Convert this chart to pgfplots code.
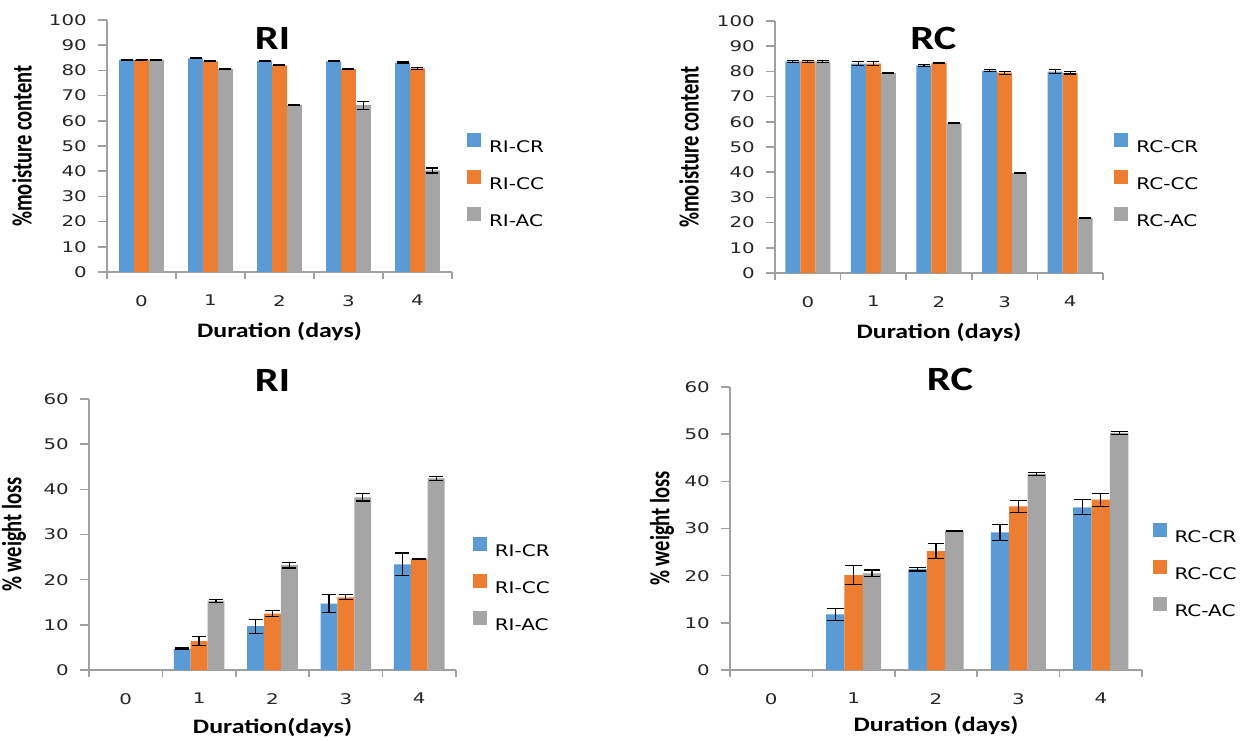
\documentclass[border=0pt]{standalone}
\usepackage{pgfplots}
\pgfplotsset{compat=1.18}
\usepackage{pgfplotstable}
\usepackage{fontspec}
\setmainfont{DejaVu Sans}
\newfontfamily\tickf{DejaVu Sans}[FakeStretch=1.35]
\newfontfamily\legf{DejaVu Sans}[FakeStretch=1.25]
\newfontfamily\labf{Carlito}[FakeStretch=1.26]
\newfontfamily\ylabf{Carlito}[FakeStretch=0.74]
\newfontfamily\titf{Carlito}[FakeStretch=1.25]

\definecolor{cblue}{HTML}{5B9BD5}
\definecolor{corange}{HTML}{ED7D31}
\definecolor{cgray}{HTML}{A5A5A5}
\definecolor{axgray}{HTML}{A0A0A0}

% moisture content, RI
\pgfplotstableread{
x cr cre cc cce ac ace
0 84.2 0.2 84.2 0.2 84.2 0.2
1 84.8 0.2 83.6 0.2 80.5 0.2
2 83.7 0.2 82.0 0.2 66.3 0.2
3 83.6 0.2 80.5 0.2 66.2 1.6
4 83.1 0.2 80.8 0.4 40.3 1.0
}\tRImc

% moisture content, RC
\pgfplotstableread{
x cr cre cc cce ac ace
0 84.0 0.4 84.0 0.4 84.0 0.4
1 83.1 0.7 83.1 0.7 79.4 0.3
2 82.4 0.4 83.3 0.2 59.4 0.2
3 80.3 0.3 79.5 0.6 39.7 0.2
4 79.9 0.7 79.4 0.4 21.8 0.2
}\tRCmc

% weight loss, RI
\pgfplotstableread{
x cr cre cc cce ac ace
1 4.7 0.15 6.4 1.0 15.3 0.3
2 9.7 1.55 12.5 0.6 23.2 0.6
3 14.7 2.0 16.1 0.55 38.2 0.8
4 23.4 2.5 24.6 0.05 42.4 0.4
}\tRIwl

% weight loss, RC
\pgfplotstableread{
x cr cre cc cce ac ace
1 11.8 1.3 20.1 2.0 20.5 0.7
2 21.4 0.4 25.2 1.55 29.5 0.15
3 29.2 1.7 34.7 1.3 41.6 0.3
4 34.5 1.6 36.1 1.4 50.3 0.3
}\tRCwl

\pgfplotsset{
  panel/.style={
    scale only axis,
    axis lines*=left,
    axis line style={draw=axgray, line width=1.1pt},
    xmin=-0.5, xmax=4.5,
    xtick={0,...,4},
    minor xtick={-0.5,0.5,...,4.5},
    tick align=outside,
    major tick length=6.75pt,
    minor tick length=5.25pt,
    tick style={draw=axgray, line width=1.1pt},
    major x tick style={draw=none},
    /pgf/number format/assume math mode=true,
    tick label style={font=\tickf\fontsize{11}{13}\selectfont, text=black!85},
    yticklabel style={inner sep=0pt, anchor=east, xshift=-8.25pt},
    xticklabel style={inner sep=0pt, anchor=north, yshift=-10.5pt},
    xlabel style={anchor=base, font=\labf\bfseries\fontsize{15.4}{18}\selectfont},
    ylabel style={anchor=center, font=\ylabf\bfseries\fontsize{20.8}{24}\selectfont},
    ybar=0pt,
    error bars/y dir=both,
    error bars/y explicit,
    error bars/error bar style={black, line width=0.9pt},
    legend cell align=left,
    legend style={draw=none, fill=none, inner sep=0pt, row sep=12.75pt,
      font=\legf\fontsize{12}{14}\selectfont,
      nodes={inner xsep=0pt, inner ysep=0pt, text height=9.75pt, text depth=0.75pt},
      /tikz/every odd column/.style={column sep=6pt}},
  },
  sw/.style={legend image code/.code={\fill[##1, draw=none] (0pt,-0.75pt) rectangle (10.5pt,9.75pt);}},
  s1/.style={fill=cblue, draw=none, sw},
  s2/.style={fill=corange, draw=none, sw},
  s3/.style={fill=cgray, draw=none, sw},
}

\begin{document}
\begin{tikzpicture}
\useasboundingbox (0,0) rectangle (937.5pt,555pt);

% top left: moisture RI
\begin{axis}[panel, at={(80.25pt,351pt)}, anchor=south west,
  width=258.75pt, height=189pt, bar width=0.217,
  ymin=0, ymax=100, ytick={0,10,...,100},
  error bars/error mark options={rotate=90, black, line width=0.9pt, mark size=4.5pt},
  xlabel={Duration (days)}, ylabel={\%moisture content},
  xlabel style={at={(axis description cs:0.5,-0.258)}},
  ylabel style={at={(axis description cs:-0.2464,0.5)}},
  legend style={at={(1.043,0.552)}, anchor=north west}]
\addplot[s1] table[x=x, y=cr, y error=cre] {\tRImc};
\addplot[s2] table[x=x, y=cc, y error=cce] {\tRImc};
\addplot[s3] table[x=x, y=ac, y error=ace] {\tRImc};
\legend{RI-CR,RI-CC,RI-AC}
\end{axis}

% top right: moisture RC
\begin{axis}[panel, at={(581.25pt,350.25pt)}, anchor=south west,
  width=246pt, height=189pt, bar width=0.229,
  ymin=0, ymax=100, ytick={0,10,...,100},
  error bars/error mark options={rotate=90, black, line width=0.9pt, mark size=4.5pt},
  xlabel={Duration (days)}, ylabel={\%moisture content},
  xlabel style={at={(axis description cs:0.5,-0.258)}},
  ylabel style={at={(axis description cs:-0.262,0.5)}},
  legend style={at={(1.034,0.556)}, anchor=north west}]
\addplot[s1] table[x=x, y=cr, y error=cre] {\tRCmc};
\addplot[s2] table[x=x, y=cc, y error=cce] {\tRCmc};
\addplot[s3] table[x=x, y=ac, y error=ace] {\tRCmc};
\legend{RC-CR,RC-CC,RC-AC}
\end{axis}

% bottom left: weight loss RI
\begin{axis}[panel, at={(66.75pt,52.5pt)}, anchor=south west,
  width=275.25pt, height=203.25pt, bar width=0.23,
  ymin=0, ymax=60, ytick={0,10,...,60},
  error bars/error mark options={rotate=90, black, line width=0.9pt, mark size=5.25pt},
  xlabel={Duration(days)}, ylabel={\% weight loss},
  xlabel style={at={(axis description cs:0.5,-0.236)}},
  ylabel style={at={(axis description cs:-0.2044,0.5)}},
  legend style={at={(1.045,0.491)}, anchor=north west}]
\addplot[s1] table[x=x, y=cr, y error=cre] {\tRIwl};
\addplot[s2] table[x=x, y=cc, y error=cce] {\tRIwl};
\addplot[s3] table[x=x, y=ac, y error=ace] {\tRIwl};
\legend{RI-CR,RI-CC,RI-AC}
\end{axis}

% bottom right: weight loss RC
\begin{axis}[panel, at={(547.5pt,52.5pt)}, anchor=south west,
  width=309pt, height=212.25pt, bar width=0.223,
  ymin=0, ymax=60, ytick={0,10,...,60},
  error bars/error mark options={rotate=90, black, line width=0.9pt, mark size=6.25pt},
  xlabel={Duration (days)}, ylabel={\% weight loss},
  xlabel style={at={(axis description cs:0.5,-0.219)}},
  ylabel style={at={(axis description cs:-0.165,0.5)}},
  legend style={at={(1.025,0.52)}, anchor=north west}]
\addplot[s1] table[x=x, y=cr, y error=cre] {\tRCwl};
\addplot[s2] table[x=x, y=cc, y error=cce] {\tRCwl};
\addplot[s3] table[x=x, y=ac, y error=ace] {\tRCwl};
\legend{RC-CR,RC-CC,RC-AC}
\end{axis}

\node[anchor=base, inner sep=0pt, font=\titf\bfseries\fontsize{25.5}{30}\selectfont] at (204.4pt,517.5pt) {RI};
\node[anchor=base, inner sep=0pt, font=\titf\bfseries\fontsize{25.5}{30}\selectfont] at (700pt,517.5pt) {RC};
\node[anchor=base, inner sep=0pt, font=\titf\bfseries\fontsize{25.5}{30}\selectfont] at (204.4pt,261pt) {RI};
\node[anchor=base, inner sep=0pt, font=\titf\bfseries\fontsize{25.5}{30}\selectfont] at (712.5pt,261.75pt) {RC};
\end{tikzpicture}
\end{document}
